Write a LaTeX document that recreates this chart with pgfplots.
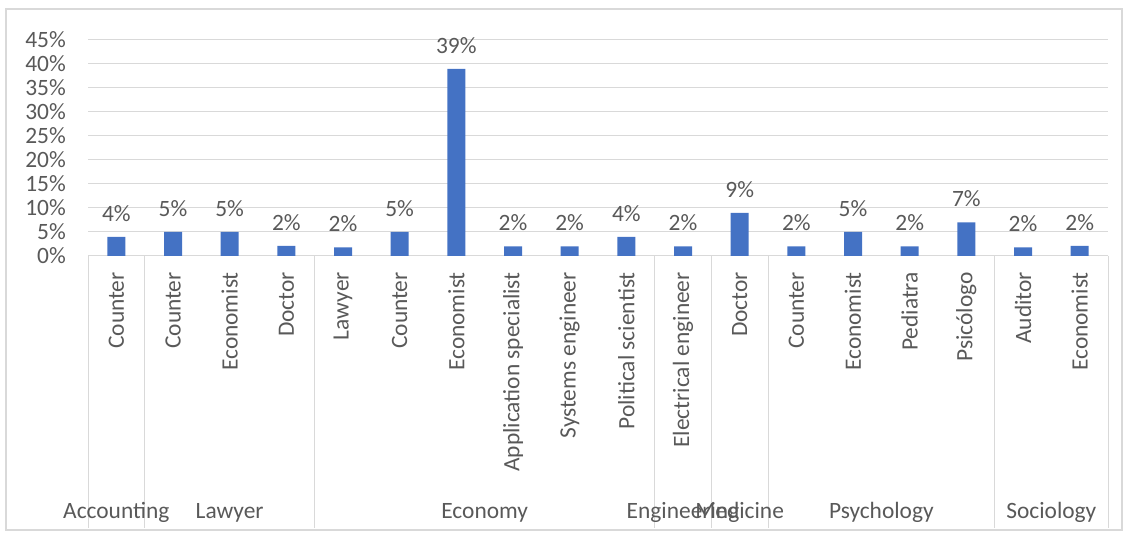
\documentclass[border=0pt]{standalone}
\usepackage{pgfplots}
\pgfplotsset{compat=1.18}
\usepackage{fontspec}
\setmainfont{Carlito}
\definecolor{txt}{HTML}{595959}
\definecolor{grd}{HTML}{D9D9D9}
\definecolor{barc}{HTML}{4472C4}
\begin{document}
\begin{tikzpicture}[font=\fontsize{23.5}{28}\selectfont]
\begin{axis}[
  name=ax,
  scale only axis, width=1020bp, height=216bp,
  xmin=-0.5, xmax=17.5, ymin=0, ymax=45,
  clip=false,
  axis line style={draw=none},
  major tick length=0pt,
  ymajorgrids, grid style={grd, line width=1bp},
  ytick={0,5,...,45},
  yticklabels={0\%,5\%,10\%,15\%,20\%,25\%,30\%,35\%,40\%,45\%},
  yticklabel style={text=txt, anchor=east, inner sep=0pt, xshift=-22bp},
  xtick={0,...,17},
  xticklabels={Counter,Counter,Economist,Doctor,Lawyer,Counter,Economist,Application specialist,Systems engineer,Political scientist,Electrical engineer,Doctor,Counter,Economist,Pediatra,Psicólogo,Auditor,Economist},
  xticklabel style={yshift=-16bp, rotate=90, anchor=east, text=txt, inner sep=0pt},
  ybar, bar width=18bp,
  nodes near coords={\pgfmathprintnumber[fixed,precision=0,assume math mode=true]{\pgfplotspointmeta}\%},
  every node near coord/.append style={text=txt, anchor=south, inner sep=0pt, yshift=15bp},
]
\addplot[fill=barc, draw=none] coordinates {
 (0,4.0) (1,5.0) (2,5.0) (3,2.1) (4,1.8) (5,5.0) (6,39.0) (7,2.0) (8,2.0)
 (9,4.0) (10,2.0) (11,9.0) (12,2.0) (13,5.0) (14,2.0) (15,7.0) (16,1.8) (17,2.1)
};
% group separators
\pgfplotsinvokeforeach{-0.5,0.5,3.5,9.5,10.5,11.5,15.5,17.5}{
  \draw[grd, line width=1bp] (axis cs:#1,0) -- (axis cs:#1,-56.7);
}
% group labels
\node[anchor=base, text=txt] at (axis cs:0,-54.6) {Accounting};
\node[anchor=base, text=txt] at (axis cs:2,-54.6) {Lawyer};
\node[anchor=base, text=txt] at (axis cs:6.5,-54.6) {Economy};
\node[anchor=base, text=txt] at (axis cs:10,-54.6) {Engineering};
\node[anchor=base, text=txt] at (axis cs:11,-54.6) {Medicine};
\node[anchor=base, text=txt] at (axis cs:13.5,-54.6) {Psychology};
\node[anchor=base, text=txt] at (axis cs:16.5,-54.6) {Sociology};
% outer frame
\draw[grd, line width=1.2bp] (axis cs:-1.947,-57.08) rectangle (axis cs:17.747,51.46);
\coordinate (bbsw) at (axis cs:-2.053,-58.33);
\coordinate (bbne) at (axis cs:17.888,53.33);
\end{axis}
\pgfresetboundingbox
\path[use as bounding box] (bbsw) rectangle (bbne);
\end{tikzpicture}
\end{document}
